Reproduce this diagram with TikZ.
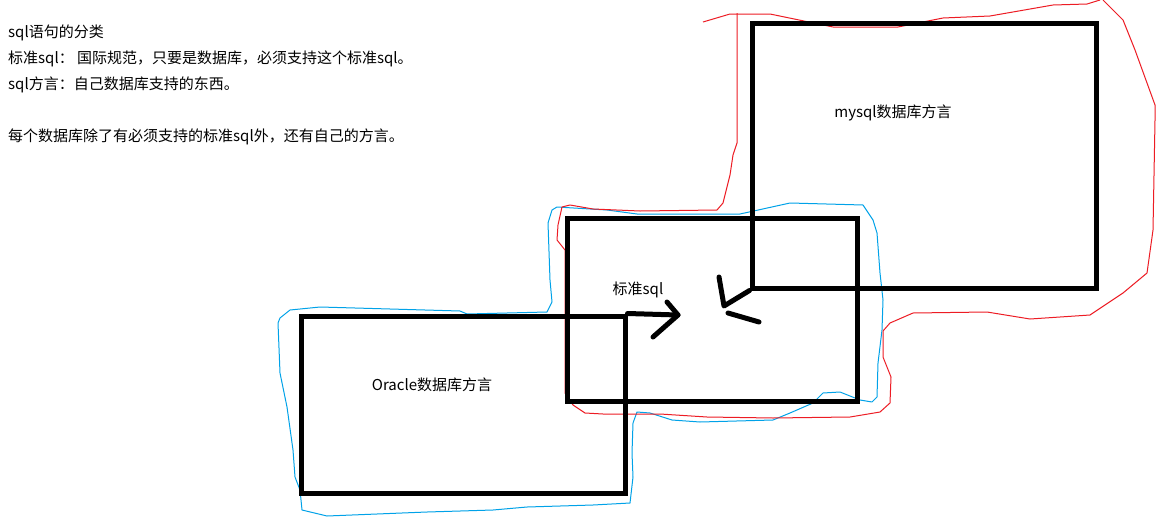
\documentclass[tikz,border=0pt]{standalone}
\usepackage{fontspec}
\setmainfont{Noto Sans CJK SC}
\definecolor{penred}{HTML}{ED1C24}
\definecolor{penblue}{HTML}{00A2E8}
\begin{document}
\begin{tikzpicture}[x=1pt,y=-1pt,
  box/.style={draw=black,line width=5pt,inner sep=0pt},
  pen/.style={draw=black,line width=5pt,line cap=round,line join=round},
  txt/.style={inner sep=0pt,anchor=west,font=\fontsize{15pt}{17pt}\selectfont},
  lbl/.style={inner sep=0pt,font=\fontsize{15pt}{17pt}\selectfont},
  redline/.style={draw=penred,line width=1pt,line join=round},
  blueline/.style={draw=penblue,line width=1pt,line join=round}]
\useasboundingbox[fill=white] (0,0) rectangle (1161,530);

% text block
\node[txt] (t1) at (8,33) {sql语句的分类};
\node[txt] (t2) at (8,59) {标准sql： 国际规范，只要是数据库，必须支持这个标准sql。};
\node[txt] (t3) at (8,85) {sql方言：自己数据库支持的东西。};
\node[txt] (t4) at (8,137) {每个数据库除了有必须支持的标准sql外，还有自己的方言。};

% blue outline (Oracle + standard)
\draw[blueline] (280,318) -- (290,310) -- (320,307) -- (460,311) -- (467,314) -- (547,312)
  -- (552,302) -- (550,280) -- (548,223) -- (552,210) -- (557,207) -- (607,210) -- (637,214)
  -- (740,214) -- (790,203) -- (863,205) -- (873,220) -- (877,233) -- (880,273) -- (883,300)
  -- (882,330) -- (878,363) -- (877,397) -- (872,402) -- (860,400) -- (840,392) -- (823,393)
  -- (813,403) -- (790,413) -- (773,420) -- (700,422) -- (672,420) -- (650,413) -- (637,412)
  -- (633,423) -- (632,453) -- (633,477) -- (630,503) -- (593,505) -- (527,507) -- (493,510)
  -- (427,512) -- (327,516) -- (302,510) -- (300,490) -- (295,477) -- (293,450) -- (287,407)
  -- (280,373) -- (278,323) -- cycle;

% red outline (mysql + standard)
\draw[redline] (703,22) -- (730,14) -- (770,14) -- (833,27) -- (898,27) -- (943,18) -- (990,16)
  -- (1053,5) -- (1087,4) -- (1100,0);
\draw[redline] (1103,0) -- (1123,20) -- (1135,50) -- (1155,105) -- (1155,120) -- (1153,230)
  -- (1147,273) -- (1123,293) -- (1090,315) -- (1030,319) -- (987,312) -- (913,313) -- (890,323)
  -- (883,331) -- (883,357) -- (891,377) -- (890,403) -- (880,412) -- (850,417) -- (773,418)
  -- (707,417) -- (660,414) -- (603,414) -- (585,413) -- (573,405) -- (565,393) -- (565,250)
  -- (557,240) -- (558,225) -- (562,207) -- (570,205) -- (593,209) -- (640,211) -- (717,210)
  -- (723,203) -- (730,175) -- (733,155) -- (737,143) -- (737,13);

% boxes
\node[box,minimum width=344pt,minimum height=265pt] (mysql) at (924,155.5) {};
\node[box,minimum width=290pt,minimum height=183pt] (std) at (712,309.5) {};
\node[box,minimum width=324pt,minimum height=177pt] (oracle) at (463,404.5) {};

% labels
\node[lbl] (lmysql) at (893,113) {mysql数据库方言};
\node[lbl] (lstd) at (638,290) {标准sql};
\node[lbl] (loracle) at (432,385) {Oracle数据库方言};

% arrows
\coordinate (rtip) at (678,315);
\coordinate (rh1) at (667,302);
\coordinate (rh2) at (653,337);
\draw[pen] (oracle.north east) -- (rtip);
\draw[pen] (rh1) -- (rtip) -- (rh2);

\coordinate (ltip) at (724,306);
\coordinate (lh1) at (719,277);
\coordinate (lh2a) at (728,313);
\coordinate (lh2b) at (759,322);
\draw[pen] (mysql.south west) -- (ltip) -- (lh1);
\draw[pen] (lh2a) -- (lh2b);
\end{tikzpicture}
\end{document}
